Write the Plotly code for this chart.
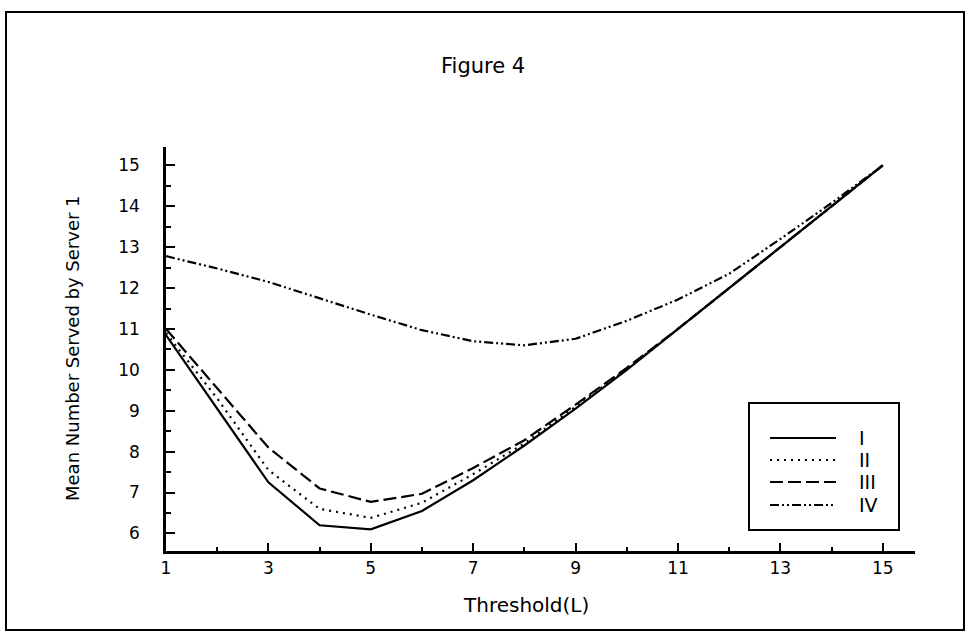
import plotly.graph_objects as go

threshold = list(range(1, 16))
series_I = [10.85, 9.05, 7.25, 6.2, 6.1, 6.55, 7.3, 8.15, 9.05, 10.0, 11.0, 12.0, 13.0, 14.0, 15.0]
series_II = [10.9, 9.3, 7.55, 6.6, 6.38, 6.75, 7.45, 8.2, 9.1, 10.02, 11.0, 12.0, 13.0, 14.0, 15.0]
series_III = [11.0, 9.55, 8.1, 7.1, 6.77, 6.97, 7.6, 8.28, 9.15, 10.05, 11.0, 12.0, 13.0, 14.0, 15.0]
series_IV = [12.78, 12.48, 12.15, 11.75, 11.35, 10.97, 10.7, 10.6, 10.76, 11.2, 11.72, 12.35, 13.2, 14.08, 15.0]
names = ["I", "II", "III", "IV"]
x_tick_vals = [1, 3, 5, 7, 9, 11, 13, 15]
y_tick_vals = list(range(6, 16))

dashes = ["solid", "2px,5px", "13px,5px", "9px,3px,2px,3px,2px,3px"]

W, H = 970, 640
L, R, T, B = 166, 55, 147, 89
PW, PH = W - L - R, H - T - B

def px(x):
    return (x - L) / PW

def py(y):
    return (H - B - y) / PH

fig = go.Figure()
for name, ys, d in zip(names, [series_I, series_II, series_III, series_IV], dashes):
    fig.add_trace(go.Scatter(x=threshold, y=ys, mode="lines", name=name,
                             line=dict(color="black", width=2.2, dash=d),
                             showlegend=False))

font = "DejaVu Sans, Verdana, sans-serif"

shapes = [
    dict(type="rect", xref="paper", yref="paper", x0=px(6), x1=px(964), y0=py(630), y1=py(12),
         line=dict(color="black", width=2)),
    dict(type="rect", xref="paper", yref="paper", x0=px(749), x1=px(899), y0=py(530), y1=py(403),
         line=dict(color="black", width=2)),
]
annotations = [
    dict(text="Figure 4", x=px(483), y=py(66), xref="paper", yref="paper", showarrow=False,
         font=dict(family=font, size=21, color="black"), xanchor="center", yanchor="middle"),
    dict(text="Mean Number Served by Server 1", x=px(72), y=py(348), xref="paper", yref="paper",
         showarrow=False, textangle=-90, xanchor="center", yanchor="middle",
         font=dict(family=font, size=18, color="black")),
    dict(text="Threshold(L)", x=px(526), y=py(605), xref="paper", yref="paper", showarrow=False,
         xanchor="center", yanchor="middle", font=dict(family=font, size=20, color="black")),
]
rows = [438, 460, 482, 505]
for name, d, ry in zip(names, dashes, rows):
    shapes.append(dict(type="line", xref="paper", yref="paper", x0=px(770), x1=px(836),
                       y0=py(ry), y1=py(ry), line=dict(color="black", width=2.2, dash=d)))
    annotations.append(dict(text=name, x=px(857), y=py(ry), xref="paper", yref="paper",
                            showarrow=False, xanchor="left", yanchor="middle",
                            font=dict(family=font, size=19, color="black")))

fig.update_layout(
    width=W, height=H,
    margin=dict(l=L, r=R, t=T, b=B),
    paper_bgcolor="white", plot_bgcolor="white",
    shapes=shapes, annotations=annotations,
    font=dict(family=font, color="black"),
    hovermode=False,
    xaxis=dict(range=[1, 15.63], tickvals=x_tick_vals, ticktext=[str(v) for v in x_tick_vals],
               showgrid=False, zeroline=False, showline=True, linecolor="black", linewidth=2.5,
               ticks="inside", ticklen=8, tickwidth=2, tickcolor="black",
               minor=dict(tickvals=list(range(2, 16, 2)), ticks="inside", ticklen=4, tickwidth=2, tickcolor="black"),
               tickfont=dict(family=font, size=17, color="black"), ticklabelstandoff=0),
    yaxis=dict(range=[5.57, 15.45], tickvals=y_tick_vals, ticktext=[str(v) for v in y_tick_vals],
               showgrid=False, zeroline=False, showline=True, linecolor="black", linewidth=2.5,
               ticks="inside", ticklen=9, tickwidth=2, tickcolor="black",
               minor=dict(dtick=0.5, ticks="inside", ticklen=5, tickwidth=2, tickcolor="black"),
               tickfont=dict(family=font, size=17, color="black"), ticklabelstandoff=20),
)

fig.write_html("out.html", config={"displayModeBar": False},
               post_script="document.body.style.margin='0px';")
